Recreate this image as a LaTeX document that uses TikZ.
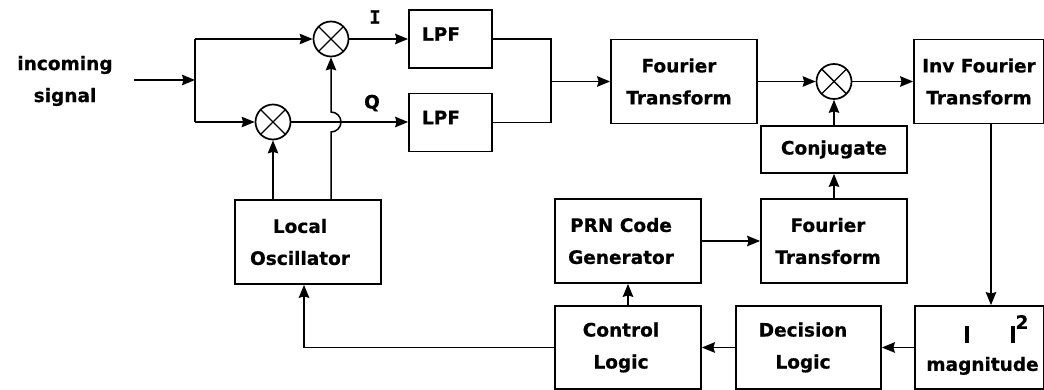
\documentclass[tikz,border=0pt]{standalone}
\usepackage{fontspec}
\setmainfont{DejaVu Sans}[BoldFeatures={FakeBold=0.6}]
\newfontfamily\ilabelfont{DejaVu Sans Mono}[BoldFeatures={FakeBold=0.6}]
\usetikzlibrary{shapes,arrows.meta,positioning,calc}

\tikzset{
  block/.style={draw, line width=1.8pt, minimum width=146pt, minimum height=84pt, align=center, inner sep=2pt, font=\bfseries\fontsize{18.5}{32}\selectfont},
  mixer/.style={draw, circle, line width=1.7pt, minimum size=35pt, inner sep=0pt,
    path picture={\draw[line width=1.4pt] (path picture bounding box.north west) -- (path picture bounding box.south east)
      (path picture bounding box.north east) -- (path picture bounding box.south west);}},
  sigline/.style={line width=1.5pt},
  sigarrow/.style={sigline, -{Stealth[length=13pt,width=10.5pt,inset=1.5pt]}},
  lbl/.style={font=\bfseries\fontsize{18.5}{32}\selectfont, align=center}
}

\begin{document}
\begin{tikzpicture}[x=1pt, y=-1pt]
    \useasboundingbox (0,0) rectangle (1044,390);

    % Input signal and split
    \node[lbl] (sig) at (65,81) {incoming\\signal};
    \coordinate (in) at (134,80);
    \coordinate (split) at (195,80);
    \coordinate (splitI) at (195,39);
    \coordinate (splitQ) at (195,122);

    % Mixers
    \node[mixer] (mixI) at (331,39) {};
    \node[mixer] (mixQ) at (273,122) {};
    \coordinate (hop) at (331,132);

    % Low pass filters
    \node[block, minimum width=83pt, minimum height=58pt] (lpfI) at (450.5,39) {LPF\hspace*{19pt}\rule[-10pt]{0pt}{10pt}};
    \node[block, minimum width=83pt, minimum height=58pt] (lpfQ) at (450.5,122.5) {LPF\hspace*{19pt}\rule[-10pt]{0pt}{10pt}};
    \node[lbl, font=\ilabelfont\bfseries\fontsize{18.5}{32}\selectfont] (Ilbl) at (375,17) {I};
    \node[lbl] (Qlbl) at (372,103) {Q};
    \coordinate (join) at (551,81.5);

    % Correlation chain
    \node[block] (ft1) at (684,81.5) {Fourier\hspace*{10pt}\\Transform\hspace*{10pt}};
    \node[mixer] (mix3) at (834,81.5) {};
    \node[block, minimum width=130pt] (ift) at (979,81.5) {Inv Fourier\\Transform};
    \node[block, minimum height=47pt] (conj) at (834,149.5) {Conjugate};
    \node[block] (ft2) at (834,241) {Fourier\hspace*{12pt}\\Transform\hspace*{12pt}};
    \node[block] (prn) at (628,241) {PRN Code\hspace*{14pt}\\Generator\hspace*{14pt}};
    \node[block] (lo) at (308,242) {Local\hspace*{16pt}\\Oscillator\hspace*{16pt}};

    % Bottom row
    \node[block, minimum height=83pt] (ctl) at (628,347.5) {Control\hspace*{14pt}\\Logic\hspace*{14pt}};
    \node[block, minimum height=83pt, minimum width=145pt] (dec) at (808.5,347.5) {Decision\hspace*{11pt}\\Logic\hspace*{11pt}};
    \node[block, minimum height=83pt, minimum width=129pt] (mag) at (979.5,347.5)
      {\hspace*{34pt}\rule[-4pt]{4pt}{17pt}\hspace{42pt}\rule[-4pt]{4pt}{17pt}\hspace{1pt}\raisebox{10pt}{2}\\magnitude\hspace*{-6pt}\rule[-9pt]{0pt}{9pt}};

    % Front end connectors
    \draw[sigarrow] (in) -- (split);
    \draw[sigline] (splitI) -- (splitQ);
    \draw[sigarrow] (splitI) -- (mixI);
    \draw[sigarrow] (splitQ) -- (mixQ);
    \draw[sigarrow] (mixI) -- (lpfI);
    \draw[sigarrow] (mixQ) -- (mixQ -| lpfQ.west);
    \draw[sigarrow] (lo.north -| mixQ) -- (mixQ);
    \draw[sigarrow] (lo.north -| mixI) -- (hop) arc[start angle=90, end angle=-90, radius=10] -- (mixI);
    \draw[sigline] (lpfI.east) -| (join);
    \draw[sigline] (lpfQ.east) -| (join);
    \draw[sigarrow] (join) -- (join -| ft1.west);

    % Correlation connectors
    \draw[sigarrow] (ft1) -- (mix3);
    \draw[sigarrow] (mix3) -- (ift);
    \draw[sigarrow] (conj) -- (mix3);
    \draw[sigarrow] (ft2) -- (conj);
    \draw[sigarrow] (prn) -- (ft2);
    \draw[sigarrow] ([xshift=12pt]ift.south) -- ([xshift=12pt]ift.south |- mag.north);

    % Feedback loop
    \draw[sigarrow] (mag) -- (dec);
    \draw[sigarrow] (dec) -- (ctl);
    \draw[sigarrow] (ctl) -- (prn);
    \draw[sigarrow] (ctl.west) -| ([xshift=-4pt]lo.south);
\end{tikzpicture}
\end{document}
